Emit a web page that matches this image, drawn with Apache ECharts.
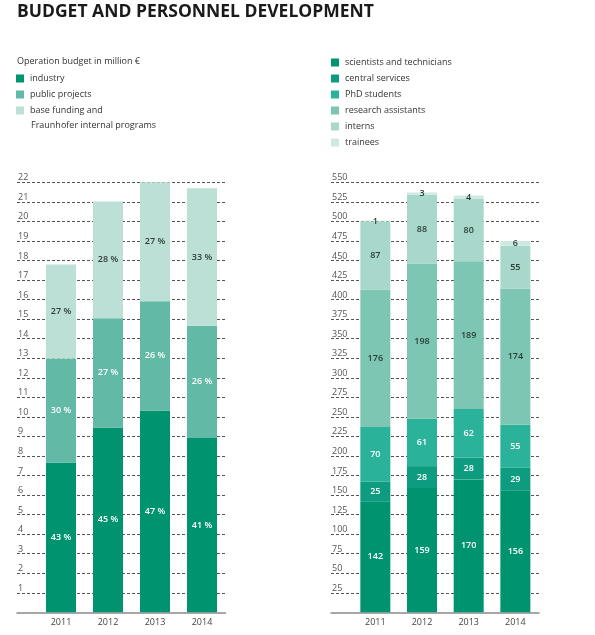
<!DOCTYPE html>
<html>
<head>
<meta charset="utf-8">
<script src="https://cdn.jsdelivr.net/npm/echarts@6/dist/echarts.min.js"></script>
<style>
html,body{margin:0;padding:0;background:#fff;}
#c{width:595px;height:635px;}
</style>
</head>
<body>
<div id="c"></div>
<script>
const years = ['2011', '2012', '2013', '2014'];

// Operation budget in million €
const budgetNames = ['industry', 'public projects', 'base funding and Fraunhofer internal programs'];
const industry = [7.67, 9.46, 10.33, 8.92];
const publicProjects = [5.30, 5.58, 5.59, 5.74];
const baseFunding = [4.83, 5.98, 6.08, 7.03];
const industryPct = ['43 %', '45 %', '47 %', '41 %'];
const publicPct = ['30 %', '27 %', '26 %', '26 %'];
const basePct = ['27 %', '28 %', '27 %', '33 %'];
const budgetTicks = [0, 22, 1];

// Personnel
const staffNames = ['scientists and technicians', 'central services', 'PhD students', 'research assistants', 'interns', 'trainees'];
const scientists = [142, 159, 170, 156];
const centralServices = [25, 28, 28, 29];
const phdStudents = [70, 61, 62, 55];
const researchAssistants = [176, 198, 189, 174];
const interns = [87, 88, 80, 55];
const trainees = [1, 3, 4, 6];
const staffTicks = [0, 550, 25];

const budgetColors = ['#00936f', '#62b9a5', '#bde0d6'];
const staffColors = ['#00936f', '#0d9c80', '#2ab39a', '#7cc6b3', '#a7d8cb', '#cfe9e1'];
const FONT = '"Open Sans", "Noto Sans", sans-serif';

const chart = echarts.init(document.getElementById('c'));

function labelCfg(color, texts) {
  return {
    show: true, position: 'inside', color: color, fontSize: 9, fontFamily: FONT, fontWeight: 600,
    formatter: p => texts ? texts[p.dataIndex] : String(p.value)
  };
}

const budgetData = [industry, publicProjects, baseFunding];
const budgetPct = [industryPct, publicPct, basePct];
const budgetLabelColor = ['#fff', '#fff', '#2c3e38'];
const staffData = [scientists, centralServices, phdStudents, researchAssistants, interns, trainees];
const staffLabelColor = ['#fff', '#fff', '#fff', '#2c3e38', '#2c3e38', '#2c3e38'];

const series = [];
budgetNames.forEach((n, i) => {
  series.push({
    name: n, type: 'bar', stack: 'b', xAxisIndex: 0, yAxisIndex: 0, barWidth: 30,
    itemStyle: { color: budgetColors[i] }, data: budgetData[i],
    label: labelCfg(budgetLabelColor[i], budgetPct[i]), z: 3
  });
});
staffNames.forEach((n, i) => {
  series.push({
    name: n, type: 'bar', stack: 's', xAxisIndex: 2, yAxisIndex: 2, barWidth: 30,
    itemStyle: { color: staffColors[i] }, data: staffData[i],
    label: labelCfg(staffLabelColor[i]), z: 3
  });
});

function catAxis(gi) {
  return {
    type: 'category', gridIndex: gi, data: years,
    axisLine: { show: false }, axisTick: { show: false },
    axisLabel: { color: '#444', fontSize: 9, fontFamily: FONT, margin: 6 }
  };
}
function bgXAxis(gi) {
  return {
    type: 'value', gridIndex: gi, min: 0, max: 1, show: true,
    axisLine: { show: true, lineStyle: { color: '#8a8a8a', width: 1.5 } },
    axisTick: { show: false }, axisLabel: { show: false }, splitLine: { show: false }, z: 1
  };
}
function valAxis(gi, ticks, showLabels) {
  return {
    type: 'value', gridIndex: gi, min: ticks[0], max: ticks[1], interval: ticks[2],
    axisLine: { show: false }, axisTick: { show: false },
    splitLine: { show: showLabels, showMinLine: false, lineStyle: { color: '#555', type: [3, 2], width: 1 } },
    axisLabel: showLabels ? {
      show: true, inside: true, align: 'left', verticalAlign: 'bottom', margin: 1,
      color: '#555', fontSize: 9, fontFamily: FONT, showMinLabel: false
    } : { show: false }
  };
}

chart.setOption({
  animation: false,
  title: {
    text: 'BUDGET AND PERSONNEL DEVELOPMENT', left: 17, top: 3, padding: 0,
    textStyle: { fontSize: 17.5, fontWeight: 'bold', color: '#1a1a1a', fontFamily: FONT }
  },
  graphic: [
    { type: 'text', left: 17, top: 57, style: { text: 'Operation budget in million €', fontSize: 9, fill: '#333', fontFamily: FONT } },
    { type: 'text', left: 31, top: 121, style: { text: 'Fraunhofer internal programs', fontSize: 9, fill: '#333', fontFamily: FONT } }
  ],
  legend: [
    {
      data: budgetNames, left: 16, top: 74, padding: 0, orient: 'vertical', itemWidth: 8, itemHeight: 8, itemGap: 7,
      icon: 'rect', selectedMode: false,
      formatter: n => n === budgetNames[2] ? 'base funding and' : n,
      textStyle: { fontSize: 9, color: '#333', fontFamily: FONT, padding: [0, 0, 0, 1] }
    },
    {
      data: staffNames, left: 331, top: 58, padding: 0, orient: 'vertical', itemWidth: 8, itemHeight: 8, itemGap: 7,
      icon: 'rect', selectedMode: false,
      textStyle: { fontSize: 9, color: '#333', fontFamily: FONT, padding: [0, 0, 0, 1] }
    }
  ],
  grid: [
    { left: 37.5, width: 188, top: 182.3, height: 430 },
    { left: 17, width: 208.5, top: 182.3, height: 430 },
    { left: 352, width: 186.7, top: 182.3, height: 430 },
    { left: 331, width: 208, top: 182.3, height: 430 }
  ],
  xAxis: [catAxis(0), bgXAxis(1), catAxis(2), bgXAxis(3)],
  yAxis: [valAxis(0, budgetTicks, false), valAxis(1, budgetTicks, true), valAxis(2, staffTicks, false), valAxis(3, staffTicks, true)],
  series: series
});
</script>
</body>
</html>
